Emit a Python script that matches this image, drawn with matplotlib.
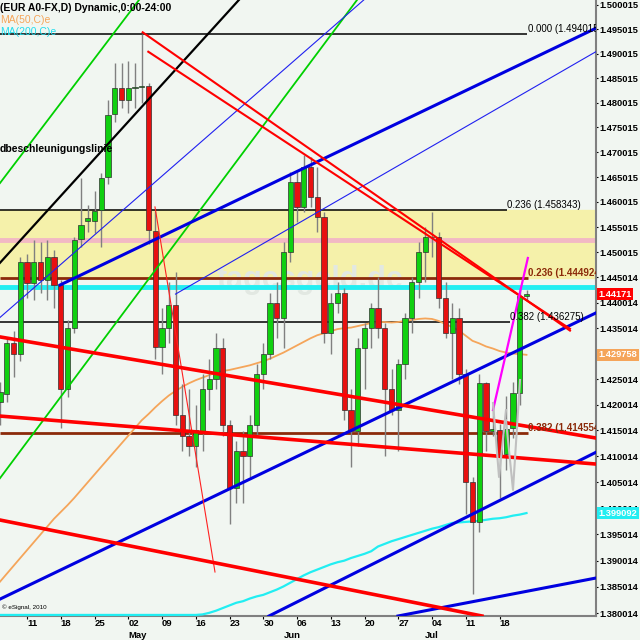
import numpy as np
import pandas as pd
import matplotlib
matplotlib.use('Agg')
import matplotlib.pyplot as plt
from matplotlib.ticker import FixedLocator, NullLocator

# ---------------- data ----------------
dates = pd.bdate_range('2011-04-05', '2011-07-22')
opens = [1.4205,1.4222,1.4320,1.4300,1.4480,1.4438,1.4481,1.4444,1.4490,1.4435,
         1.4230,1.4350,1.4526,1.4562,1.4562,1.4584,1.4650,1.4777,1.4830,1.4805,
         1.4830,1.4832,1.4833,1.4542,1.4312,1.4350,1.4395,1.4180,1.4140,1.4120,
         1.4150,1.4230,1.4250,1.4310,1.4160,1.4040,1.4110,1.4100,1.4160,1.4260,
         1.4300,1.4400,1.4370,1.4500,1.4640,1.4590,1.4670,1.4610,1.4570,1.4340,
         1.4400,1.4420,1.4190,1.4150,1.4310,1.4350,1.4390,1.4350,1.4230,1.4190,
         1.4280,1.4370,1.4440,1.4500,1.4530,1.4530,1.4410,1.4340,1.4370,1.4260,
         1.4051,1.3974,1.4242,1.4149,1.4151,1.4105,1.4155,1.4223,1.4413]
highs = [1.4245,1.4330,1.4345,1.4490,1.4496,1.4524,1.4520,1.4525,1.4505,1.4445,
         1.4365,1.4530,1.4649,1.4595,1.4623,1.4658,1.4806,1.4880,1.4880,1.4885,
         1.4880,1.4940,1.4840,1.4583,1.4390,1.4440,1.4460,1.4240,1.4230,1.4200,
         1.4260,1.4290,1.4340,1.4330,1.4170,1.4130,1.4150,1.4180,1.4280,1.4320,
         1.4420,1.4440,1.4520,1.4660,1.4660,1.4695,1.4690,1.4670,1.4580,1.4420,
         1.4440,1.4430,1.4230,1.4330,1.4360,1.4400,1.4450,1.4360,1.4270,1.4290,
         1.4380,1.4450,1.4520,1.4550,1.4580,1.4540,1.4440,1.4400,1.4390,1.4270,
         1.4060,1.4260,1.4245,1.4200,1.4163,1.4217,1.4245,1.4430,1.4425]
lows = [1.4160,1.4205,1.4255,1.4285,1.4410,1.4405,1.4420,1.4405,1.4390,1.4155,
        1.4215,1.4340,1.4510,1.4540,1.4538,1.4510,1.4636,1.4760,1.4790,1.4780,
        1.4790,1.4800,1.4516,1.4290,1.4260,1.4320,1.4160,1.4110,1.4100,1.4080,
        1.4110,1.4190,1.4230,1.4140,1.3970,1.4010,1.4010,1.4060,1.4140,1.4230,
        1.4290,1.4330,1.4310,1.4480,1.4560,1.4580,1.4590,1.4540,1.4320,1.4300,
        1.4380,1.4170,1.4080,1.4120,1.4230,1.4310,1.4330,1.4100,1.4180,1.4110,
        1.4250,1.4340,1.4410,1.4440,1.4490,1.4390,1.4330,1.4250,1.4240,1.3990,
        1.3836,1.3955,1.4110,1.4140,1.4020,1.4074,1.4136,1.4200,1.4405]
closes = [1.4225,1.4320,1.4300,1.4480,1.4438,1.4481,1.4444,1.4490,1.4435,1.4230,
          1.4350,1.4524,1.4554,1.4568,1.4582,1.4649,1.4775,1.4830,1.4805,1.4830,
          1.4832,1.4833,1.4544,1.4312,1.4350,1.4395,1.4180,1.4140,1.4120,1.4150,
          1.4230,1.4250,1.4310,1.4160,1.4040,1.4110,1.4100,1.4160,1.4260,1.4300,
          1.4400,1.4370,1.4500,1.4640,1.4590,1.4670,1.4610,1.4570,1.4340,1.4400,
          1.4420,1.4190,1.4150,1.4310,1.4350,1.4390,1.4350,1.4230,1.4190,1.4280,
          1.4370,1.4440,1.4500,1.4530,1.4530,1.4410,1.4340,1.4370,1.4260,1.4051,
          1.3974,1.4242,1.4149,1.4152,1.4105,1.4153,1.4223,1.4413,1.44171]
ma50 = [1.3860,1.3875,1.3890,1.3905,1.3920,1.3935,1.3950,1.3965,1.3980,1.3993,
        1.4006,1.4020,1.4035,1.4050,1.4065,1.4080,1.4095,1.4110,1.4125,1.4140,
        1.4155,1.4170,1.4182,1.4195,1.4207,1.4218,1.4227,1.4235,1.4242,1.4248,
        1.4253,1.4258,1.4263,1.4266,1.4268,1.4271,1.4274,1.4277,1.4281,1.4285,
        1.4290,1.4296,1.4302,1.4309,1.4316,1.4323,1.4330,1.4336,1.4340,1.4344,
        1.4348,1.4350,1.4351,1.4354,1.4357,1.4360,1.4362,1.4362,1.4361,1.4362,
        1.4364,1.4366,1.4368,1.4369,1.4368,1.4364,1.4358,1.4352,1.4345,1.4335,
        1.4325,1.4320,1.4314,1.4310,1.4305,1.4302,1.4300,1.4299,1.429758]
ma200 = [1.3797]*30 + [
        1.3798,1.3801,1.3805,1.3810,1.3815,1.3820,1.3823,1.3828,1.3832,1.3835,
        1.3840,1.3845,1.3851,1.3858,1.3865,1.3872,1.3878,1.3883,1.3888,1.3893,
        1.3897,1.3900,1.3905,1.3909,1.3913,1.3918,1.3927,1.3932,1.3937,1.3941,
        1.3945,1.3949,1.3953,1.3957,1.3961,1.3964,1.3968,1.3972,1.3973,1.3974,
        1.3975,1.3976,1.3978,1.3980,1.3981,1.3983,1.3986,1.3988,1.399092]

y_ticks = [1.380014,1.385014,1.390014,1.395014,1.400014,1.405014,1.410014,1.415014,
           1.420014,1.425014,1.430014,1.435014,1.440014,1.445014,1.450015,1.455015,
           1.460015,1.465015,1.470015,1.475015,1.480015,1.485015,1.490015,1.495015,1.500015]
x_tick_days = ['2011-04-11','2011-04-18','2011-04-25','2011-05-02','2011-05-09','2011-05-16',
               '2011-05-23','2011-05-30','2011-06-06','2011-06-13','2011-06-20','2011-06-27',
               '2011-07-04','2011-07-11','2011-07-18']
x_tick_labels = ['11','18','25','02','09','16','23','30','06','13','20','27','04','11','18']
month_days = ['2011-05-02','2011-06-02','2011-07-01']
month_labels = ['May','Jun','Jul']

# fib horizontal levels: price, label, colour, line end (trading-day index)
fib_levels = [(1.494015, '0.000 (1.494015)', '#000000', 78.1),
              (1.458343, '0.236 (1.458343)', '#000000', 75.1),
              (1.436275, '0.382 (1.436275)', '#000000', 75.5),
              (1.444924, '0.236 (1.444924', '#8B2A0A', 78.2),
              (1.414554, '0.382 (1.414554', '#8B2A0A', 78.2)]
zone_low, zone_high = 1.444924, 1.458343
pink_level = 1.4525
cyan_level = 1.4431

# trend lines: (x0, p0, x1, p1, colour, width)
trend_lines = [
    (0.0, 1.4479, 35.4, 1.5010, '#000000', 1.6),
    (0.0, 1.4638, 20.6, 1.5010, '#00D000', 1.3),
    (0.0, 1.4058, 52.9, 1.5010, '#00D000', 1.3),
    (8.9, 1.4435, 88.3, 1.4952, '#0000E0', 2.2),
    (0.0, 1.3827, 88.3, 1.4380, '#0000E0', 2.2),
    (39.85, 1.3795, 88.3, 1.4108, '#0000E0', 2.2),
    (58.96, 1.3795, 88.3, 1.3867, '#0000E0', 2.2),
    (0.0, 1.4371, 53.9, 1.5010, '#2020F0', 0.8),
    (26.0, 1.4417, 88.3, 1.4904, '#2020F0', 0.8),
    (21.14, 1.49435, 84.44, 1.43451, '#FF0000', 1.5),
    (21.97, 1.49038, 84.44, 1.43487, '#FF0000', 1.5),
    (22.96, 1.45902, 31.85, 1.38784, '#FF2020', 0.8),
    (0.0, 1.39776, 71.4, 1.3795, '#FF0000', 2.6),
    (0.0, 1.43327, 88.3, 1.41355, '#FF0000', 2.6),
    (0.0, 1.41781, 88.3, 1.40852, '#FF0000', 2.6),
]
magenta_x = [73.04, 78.2]
magenta_p = [1.41898, 1.44885]
gray_x = [73.04, 73.93, 74.96, 74.96, 76.0, 77.04]
gray_p = [1.42035, 1.40602, 1.41898, 1.41700, 1.40353, 1.42484]

# ---------------- figure ----------------
BG = '#F1F6F1'
FONT = 'Liberation Sans'
fig = plt.figure(figsize=(6.4, 6.4), dpi=100, facecolor=BG)
ax = fig.add_axes([0.0, 24/640, 596/640, 616/640], facecolor=BG)
ax.set_yscale('log')
X0, X1 = 0.0, 596/6.75
ax.set_xlim(X0, X1)
ax.set_ylim(1.37950, 1.50098)

idx = np.arange(len(dates))
date_pos = {d.strftime('%Y-%m-%d'): i for i, d in enumerate(dates)}

# zone, horizontal lines
ax.axhspan(zone_low, zone_high, color='#F5F1AA', zorder=0)
ax.axhline(pink_level, color='#F2B9C4', lw=3.5, zorder=1)
ax.axhline(cyan_level, color='#22EEF2', lw=3.5, zorder=1)
for p, lab, col, xe in fib_levels:
    lw = 2.0 if col != '#000000' else 1.1
    ax.plot([X0, xe], [p, p], color=col, lw=lw, zorder=2, solid_capstyle='butt')

# watermark
ax.text(0.52, 0.545, 'tagesgeld.de', transform=ax.transAxes, fontsize=22, color='#E2E8E2',
        fontweight='bold', family=FONT, ha='center', va='center', zorder=0.5)

# moving averages
ax.plot(idx, ma50, color='#F5A55A', lw=1.3, zorder=3)
ax.plot(idx, ma200, color='#22EEF2', lw=1.6, zorder=3, clip_on=False)

# candles
o = np.array(opens); h = np.array(highs); l = np.array(lows); c = np.array(closes)
ax.vlines(idx, l, h, color='#808080', lw=1.0, zorder=4)
up = c >= o
cols = np.where(up, '#10D010', '#E81010')
ax.bar(idx, np.abs(c - o) + 1e-5, bottom=np.minimum(o, c), width=0.78,
       color=cols, edgecolor='#303030', linewidth=0.5, zorder=5)

# trend lines
for x0, p0, x1, p1, col, w in trend_lines:
    ax.plot([x0, x1], [p0, p1], color=col, lw=w, zorder=6)
ax.plot(magenta_x, magenta_p, color='#FF00FF', lw=1.6, zorder=6)
ax.plot(gray_x[:3], gray_p[:3], color='#C0C0C0', lw=1.5, zorder=6)
ax.plot(gray_x[3:], gray_p[3:], color='#C0C0C0', lw=1.5, zorder=6)

# fib labels
for p, lab, col, xe in fib_levels:
    ax.text(xe + 0.05, p, lab, color=col, fontsize=7, va='bottom', ha='left',
            family=FONT, fontweight='bold' if col != '#000000' else 'normal',
            zorder=7, clip_on=True)

# axes styling
for s in ['top', 'left']:
    ax.spines[s].set_visible(False)
ax.spines['right'].set_color('#808080'); ax.spines['right'].set_linewidth(1.5)
ax.spines['bottom'].set_color('#808080'); ax.spines['bottom'].set_linewidth(1.5)
ax.yaxis.tick_right()
ax.yaxis.set_major_locator(FixedLocator(y_ticks))
ax.yaxis.set_minor_locator(NullLocator())
ax.set_yticklabels([f'{v:.6f}' for v in y_ticks])
ax.tick_params(axis='y', length=1.5, pad=1.2, labelsize=6.7, colors='black')
for t in ax.get_yticklabels():
    t.set_fontweight('bold'); t.set_family(FONT)

xt = [date_pos[d] for d in x_tick_days]
ax.xaxis.set_major_locator(FixedLocator(xt))
ax.xaxis.set_minor_locator(NullLocator())
ax.set_xticklabels(x_tick_labels)
ax.tick_params(axis='x', length=2, pad=0.5, labelsize=6.8, colors='black')
for t in ax.get_xticklabels():
    t.set_fontweight('bold'); t.set_family(FONT); t.set_ha('left')
for d, m in zip(month_days, month_labels):
    ax.text(date_pos[d], -0.0315, m, transform=ax.get_xaxis_transform(), fontsize=6.8,
            fontweight='bold', family=FONT, ha='left', va='center')

# price boxes on right axis
boxes = [(closes[-1], '1.44171', '#FF0000', 'white'),
         (ma50[-1], '1.429758', '#F5A55A', 'white'),
         (ma200[-1], '1.399092', '#22EEF2', 'white')]
for p, txt, bg, fg in boxes:
    ax.text(1.004, p, txt, transform=ax.get_yaxis_transform(), fontsize=6.7,
            fontweight='bold', family=FONT, color=fg, va='center', ha='left',
            bbox=dict(boxstyle='square,pad=0.15', fc=bg, ec='none'), zorder=10, clip_on=False)

# header texts
fig.text(0.0, 1 - 8/640, '(EUR A0-FX,D) Dynamic,0:00-24:00', fontsize=7.5, fontweight='bold',
         family=FONT, va='center', ha='left')
fig.text(0.0, 1 - 20/640, 'MA(50,C)e', fontsize=7.5, color='#F5A55A', family=FONT,
         va='center', ha='left')
fig.text(0.0, 1 - 32/640, 'MA(200,C)e', fontsize=7.5, color='#22DDEE', family=FONT,
         va='center', ha='left')
fig.text(0.0, 1 - 149/640, 'dbeschleunigungslinie', fontsize=7.5, fontweight='bold',
         family=FONT, va='center', ha='left')
fig.text(0.003, 1 - 607/640, '© eSignal, 2010', fontsize=4.5, family=FONT,
         va='center', ha='left')

fig.savefig('out.png', dpi=100, facecolor=BG)
